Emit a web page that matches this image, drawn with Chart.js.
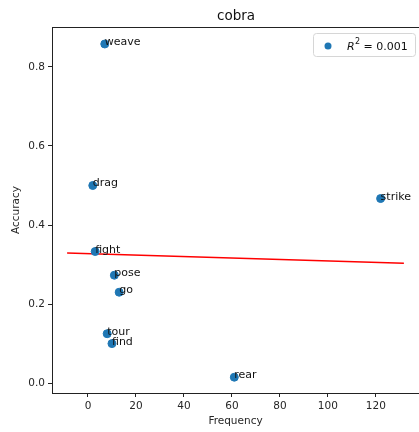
<!DOCTYPE html>
<html>
<head>
<meta charset="utf-8">
<script src="https://cdn.jsdelivr.net/npm/chart.js@4/dist/chart.umd.min.js"></script>
<style>
  html, body { margin: 0; padding: 0; background: #fff; }
  #wrap { width: 419px; height: 432px; position: relative; }
</style>
</head>
<body>
<div id="wrap"><canvas id="c" width="419" height="432"></canvas></div>
<script>
// values
const words = ["weave", "drag", "strike", "fight", "pose", "go", "tour", "find", "rear"];
const freq = [7, 2, 122, 3, 11, 13, 8, 10, 61];
const acc = [0.858, 0.5, 0.467, 0.333, 0.273, 0.23, 0.125, 0.1, 0.015];
const fitX = [-8.7, 131.7];
const fitY = [0.329, 0.303];
const xTicks = [0, 20, 40, 60, 80, 100, 120];
const yTicks = [0.0, 0.2, 0.4, 0.6, 0.8];
const r2Text = "0.001";

const FONT = "'DejaVu Sans', sans-serif";
const TXT = "#262626";

const extras = {
  id: "extras",
  afterDatasetsDraw(chart) {
    const { ctx, chartArea: a, scales: { x, y } } = chart;
    ctx.save();
    // frame
    ctx.strokeStyle = "#222"; ctx.lineWidth = 1;
    ctx.strokeRect(a.left + 0.5, a.top + 0.5, a.right - a.left, a.bottom - a.top);
    // word labels
    ctx.fillStyle = "#111"; ctx.font = "11px " + FONT;
    ctx.textAlign = "left"; ctx.textBaseline = "alphabetic";
    words.forEach((w, i) => ctx.fillText(w, x.getPixelForValue(freq[i]), y.getPixelForValue(acc[i]) + 1));
    // title
    ctx.fillStyle = "#111"; ctx.font = "13.5px " + FONT; ctx.textAlign = "center"; ctx.textBaseline = "middle";
    ctx.fillText("cobra", 236, 16);
    // legend
    const lx = 313, ly = 33, lw = 102, lh = 23;
    ctx.fillStyle = "rgba(255,255,255,0.85)"; ctx.strokeStyle = "#d6d6d6";
    ctx.beginPath(); ctx.roundRect(lx + 0.5, ly + 0.5, lw, lh, 3); ctx.fill(); ctx.stroke();
    ctx.fillStyle = "#1f77b4"; ctx.beginPath(); ctx.arc(328, 46, 3.5, 0, Math.PI * 2); ctx.fill();
    ctx.fillStyle = "#111"; ctx.textAlign = "left"; ctx.textBaseline = "alphabetic";
    ctx.font = "italic 11px " + FONT; ctx.fillText("R", 347, 50);
    ctx.font = "8px " + FONT; ctx.fillText("2", 355, 44);
    ctx.font = "11px " + FONT; ctx.fillText(" = " + r2Text, 360, 50);
    ctx.restore();
  }
};

new Chart(document.getElementById("c"), {
  type: "scatter",
  data: {
    datasets: [
      { label: "words", data: freq.map((f, i) => ({ x: f, y: acc[i] })), backgroundColor: "#1f77b4", borderColor: "#1f77b4", pointRadius: 4, pointHoverRadius: 4 },
      { label: "fit", type: "line", data: fitX.map((f, i) => ({ x: f, y: fitY[i] })), borderColor: "#ff0000", borderWidth: 1.5, pointRadius: 0, fill: false }
    ]
  },
  options: {
    responsive: false, animation: false, events: [],
    layout: { autoPadding: false, padding: { top: 27, right: 0, left: 0, bottom: 0 } },
    plugins: { legend: { display: false }, tooltip: { enabled: false }, title: { display: false } },
    scales: {
      x: {
        type: "linear", min: -15, max: 138,
        afterBuildTicks: s => { s.ticks = xTicks.map(v => ({ value: v })); },
        afterFit: s => { s.height = 39; s.paddingLeft = 0; s.paddingRight = 0; },
        grid: { drawOnChartArea: false, drawTicks: true, tickLength: 4, color: "#222" },
        border: { display: true, color: "#222" },
        ticks: { color: TXT, font: { family: FONT, size: 10.5 }, padding: 3, maxRotation: 0 },
        title: { display: true, text: "Frequency", color: TXT, font: { family: FONT, size: 10.5 }, padding: { top: 0, bottom: 4 } }
      },
      y: {
        type: "linear", min: -0.025, max: 0.901,
        afterBuildTicks: s => { s.ticks = yTicks.map(v => ({ value: v })); },
        afterFit: s => { s.width = 52; s.paddingTop = 0; s.paddingBottom = 0; },
        grid: { drawOnChartArea: false, drawTicks: true, tickLength: 4, color: "#222" },
        border: { display: true, color: "#222" },
        ticks: { color: TXT, font: { family: FONT, size: 10.5 }, padding: 3, callback: v => v.toFixed(1) },
        title: { display: true, text: "Accuracy", color: TXT, font: { family: FONT, size: 10.5 }, padding: { top: 10, bottom: 0 } }
      }
    }
  },
  plugins: [extras]
});
</script>
</body>
</html>
